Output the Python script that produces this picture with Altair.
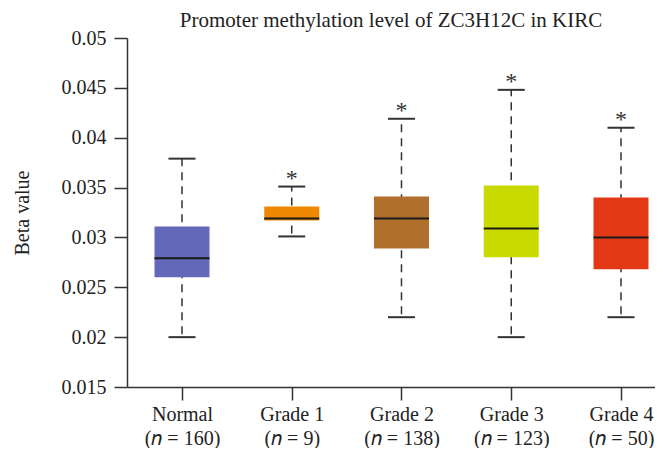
import altair as alt
import pandas as pd

groups = ["Normal", "Grade 1", "Grade 2", "Grade 3", "Grade 4"]
ns = [160, 9, 138, 123, 50]
lower = [0.0200, 0.0301, 0.0220, 0.0200, 0.0220]
q1 = [0.0260, 0.0317, 0.0289, 0.0280, 0.0268]
median = [0.0279, 0.0319, 0.0319, 0.0309, 0.0300]
q3 = [0.0311, 0.0331, 0.0341, 0.0352, 0.0340]
upper = [0.0379, 0.0351, 0.0419, 0.0448, 0.0410]
stars = ["", "*", "*", "*", "*"]
colors = ["#6368B8", "#EE8800", "#B0702C", "#C8DA00", "#E33815"]
y_ticks = [0.015, 0.02, 0.025, 0.03, 0.035, 0.04, 0.045, 0.05]

df = pd.DataFrame({
    "group": groups, "pos": list(range(len(groups))), "n": ns,
    "lower": lower, "q1": q1, "median": median, "q3": q3, "upper": upper,
    "star": stars,
})

FONT = "Liberation Serif"
cat_arr = "[" + ",".join("'" + g + "'" for g in groups) + "]"
n_arr = "[" + ",".join(str(v) for v in ns) + "]"
label_expr = f"[{cat_arr}[datum.value], '(𝑛 = ' + {n_arr}[datum.value] + ')']"

xscale = alt.Scale(domain=[-0.5011, 4.3099], nice=False, zero=False)
yscale = alt.Scale(domain=[0.015, 0.05], nice=False, zero=False)

xaxis = alt.Axis(values=list(range(len(groups))), labelExpr=label_expr, title=None,
                 grid=False, tickSize=13, labelPadding=4, labelLineHeight=24,
                 labelFlush=False, labelOverlap=False,
                 labelFont=FONT, labelFontSize=20, labelColor="#222")
yaxis = alt.Axis(values=y_ticks, format="~g", title="Beta value", grid=False,
                 tickSize=13, labelPadding=8, titleX=-105, titleY=174.5,
                 titleAngle=-90, titleAlign="center", titleBaseline="middle",
                 titleFontWeight="normal", titleFont=FONT, titleFontSize=20,
                 titleColor="#222", labelFont=FONT, labelFontSize=20, labelColor="#222")

base = alt.Chart(df).encode(x=alt.X("pos:Q", scale=xscale, axis=xaxis))

whisker = base.mark_rule(strokeDash=[8, 6], strokeDashOffset=-3, color="#333", strokeWidth=1.5).encode(
    y=alt.Y("lower:Q", scale=yscale, axis=yaxis), y2="upper:Q")

box = base.mark_rect(xOffset=-27.5, x2Offset=27.5).encode(
    x2=alt.X2("pos:Q"), y=alt.Y("q1:Q", scale=yscale), y2="q3:Q",
    color=alt.Color("group:N", scale=alt.Scale(domain=groups, range=colors), legend=None))

med = base.mark_rule(xOffset=-27.5, x2Offset=27.5, color="#1a1a1a", strokeWidth=2).encode(
    x2=alt.X2("pos:Q"), y=alt.Y("median:Q", scale=yscale))

cap_hi = base.mark_rule(xOffset=-13.5, x2Offset=13.5, color="#333", strokeWidth=2).encode(
    x2=alt.X2("pos:Q"), y=alt.Y("upper:Q", scale=yscale))
cap_lo = base.mark_rule(xOffset=-13.5, x2Offset=13.5, color="#333", strokeWidth=2).encode(
    x2=alt.X2("pos:Q"), y=alt.Y("lower:Q", scale=yscale))

star = base.mark_text(font=FONT, fontSize=24, baseline="alphabetic", dy=-1, color="#333").encode(
    y=alt.Y("upper:Q", scale=yscale), text="star:N")

chart = alt.layer(whisker, box, med, cap_hi, cap_lo, star).properties(
    width=528, height=349,
    padding={"left": 4, "top": 2, "right": 0, "bottom": 0},
    title=alt.TitleParams("Promoter methylation level of ZC3H12C in KIRC", font=FONT,
                          fontSize=21, fontWeight="normal", anchor="middle",
                          frame="group", offset=-3, color="#222"),
).configure(font=FONT, style={"guide-label": {"font": FONT}}).configure_view(stroke=None).configure_axis(
    domainColor="#333", domainWidth=1.5, tickColor="#333", tickWidth=1.5,
    labelFont=FONT, labelFontSize=20, labelColor="#222",
)

chart.save("out.html", embed_options={"renderer": "svg", "actions": False})
